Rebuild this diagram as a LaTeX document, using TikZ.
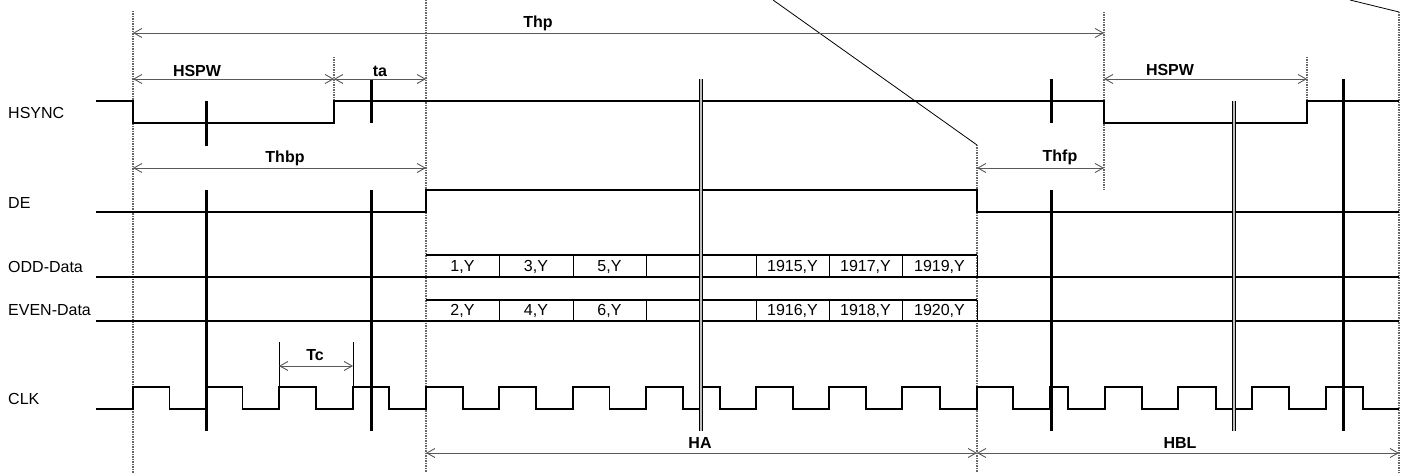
\documentclass[tikz,border=0pt]{standalone}
\usepackage{fontspec}
\setmainfont{Liberation Sans}
\usetikzlibrary{arrows.meta}
\begin{document}
\begin{tikzpicture}[x=1pt,y=-1pt,
  wave/.style={line width=1.3pt,black,line join=miter},
  guide/.style={line width=1.1pt,gray!80!black,dash pattern=on 1.5pt off 1pt},
  tick/.style={line width=1pt,black},
  dim/.style={line width=0.9pt,gray!70!black,{Straight Barb[length=8pt,width=9pt]}-{Straight Barb[length=8pt,width=9pt]}},
  bar/.style={line width=3pt,black},
  dbar/.style={double=gray!50,double distance=1.4pt,line width=1pt,black},
  sig/.style={anchor=west,inner sep=0pt,font=\fontsize{16}{18}\selectfont},
  lab/.style={inner sep=0pt,font=\fontsize{16}{18}\selectfont\bfseries},
  cell/.style={inner sep=0pt,font=\fontsize{16}{18}\selectfont}]
\useasboundingbox (0,0) rectangle (1409,473);

% signal names
\node[sig] (nHS)  at (8,113) {HSYNC};
\node[sig] (nDE)  at (8,203) {DE};
\node[sig] (nODD) at (8,267) {ODD-Data};
\node[sig] (nEV)  at (8,310) {EVEN-Data};
\node[sig] (nCLK) at (8,399) {CLK};

% guide lines
\draw[guide] (133,11) -- (133,473);
\draw[guide] (426,0) -- (426,473);
\draw[guide] (977,145) -- (977,473);
\draw[guide] (1104,12) -- (1104,190);
\draw[guide] (1399,12) -- (1399,473);
\draw[guide] (334,57) -- (334,101);
\draw[guide] (1307,57) -- (1307,101);
\draw[tick] (279,342) -- (279,409);
\draw[tick] (353,342) -- (353,409);

% expansion lines
\draw[line width=0.8pt] (773,0) -- (977,145);
\draw[line width=0.8pt] (1350,0) -- (1399,12);

% HSYNC
\draw[wave] (96,101) -- (133,101) -- (133,123) -- (334,123) -- (334,101) -- (1104,101)
  -- (1104,123) -- (1307,123) -- (1307,101) -- (1399,101);
% DE
\draw[wave] (96,212) -- (426,212) -- (426,190) -- (977,190) -- (977,212) -- (1399,212);
% data rows
\draw[wave] (96,277) -- (1399,277);
\draw[wave] (96,321) -- (1399,321);
\draw[wave] (426,255) -- (977,255);
\draw[wave] (426,300) -- (977,300);
\foreach \x in {499,573,646,756,829,902,977}{
  \draw[line width=1pt] (\x,255) -- (\x,277);
  \draw[line width=1pt] (\x,300) -- (\x,321);
}
\node[cell] (o1) at (462.5,267) {1,Y};
\node[cell] (o3) at (536,267) {3,Y};
\node[cell] (o5) at (609.5,267) {5,Y};
\node[cell] (o1915) at (792.5,267) {1915,Y};
\node[cell] (o1917) at (865.5,267) {1917,Y};
\node[cell] (o1919) at (939.5,267) {1919,Y};
\node[cell] (e2) at (462.5,311) {2,Y};
\node[cell] (e4) at (536,311) {4,Y};
\node[cell] (e6) at (609.5,311) {6,Y};
\node[cell] (e1916) at (792.5,311) {1916,Y};
\node[cell] (e1918) at (865.5,311) {1918,Y};
\node[cell] (e1920) at (939.5,311) {1920,Y};

% CLK
\draw[wave] (96,409) -- (133,409) -- (133,387) -- (169.6,387) -- (169.6,409) -- (206,409)
 -- (206,387) -- (242.5,387) -- (242.5,409) -- (279,409) -- (279,387) -- (316,387)
 -- (316,409) -- (353,409) -- (353,387) -- (389,387) -- (389,409) -- (426,409)
 -- (426,387) -- (463,387) -- (463,409) -- (499,409) -- (499,387) -- (536,387)
 -- (536,409) -- (573,409) -- (573,387) -- (609.5,387) -- (609.5,409) -- (646,409)
 -- (646,387) -- (683,387) -- (683,409) -- (701,409) -- (701,387) -- (720,387)
 -- (720,409) -- (756,409) -- (756,387) -- (793,387) -- (793,409) -- (829,409)
 -- (829,387) -- (866,387) -- (866,409) -- (902,409) -- (902,387) -- (940,387)
 -- (940,409) -- (977,409) -- (977,387) -- (1013,387) -- (1013,409) -- (1050,409)
 -- (1050,387) -- (1068,387) -- (1068,409) -- (1105,409) -- (1105,387) -- (1142,387)
 -- (1142,409) -- (1178,409) -- (1178,387) -- (1216,387) -- (1216,409) -- (1252,409)
 -- (1252,387) -- (1289,387) -- (1289,409) -- (1326,409) -- (1326,387) -- (1363,387)
 -- (1363,409) -- (1399,409);

% break bars
\draw[bar] (206,101) -- (206,146);
\draw[bar] (206,190) -- (206,431);
\draw[bar] (371,79) -- (371,123);
\draw[bar] (371,190) -- (371,431);
\draw[bar] (1051,79) -- (1051,123);
\draw[bar] (1051,190) -- (1051,431);
\draw[bar] (1343,79) -- (1343,431);
\draw[dbar] (701,79) -- (701,431);
\draw[dbar] (1234,101) -- (1234,431);

% dimension coordinates
\coordinate (thpA) at (133,33);   \coordinate (thpB) at (1104,33);
\coordinate (hspA) at (133,79);   \coordinate (hspB) at (334,79);
\coordinate (taB)  at (426,79);
\coordinate (hsp2A) at (1104,79); \coordinate (hsp2B) at (1307,79);
\coordinate (thbA) at (133,168);  \coordinate (thbB) at (426,168);
\coordinate (thfA) at (977,168);  \coordinate (thfB) at (1104,168);
\coordinate (tcA)  at (279,366);  \coordinate (tcB)  at (353,366);
\coordinate (haA)  at (426,453);  \coordinate (haB)  at (977,453);
\coordinate (hblB) at (1399,453);

\draw[dim] (thpA) -- (thpB);
\draw[dim] (hspA) -- (hspB);
\draw[dim] (hspB) -- (taB);
\draw[dim] (hsp2A) -- (hsp2B);
\draw[dim] (thbA) -- (thbB);
\draw[dim] (thfA) -- (thfB);
\draw[dim] (tcA) -- (tcB);
\draw[dim] (haA) -- (haB);
\draw[dim] (haB) -- (hblB);

\node[lab] (lThp)  at (538,23) {Thp};
\node[lab] (lHSPW) at (197,71) {HSPW};
\node[lab] (lta)   at (380,71) {ta};
\node[lab] (lHSPW2) at (1170,70) {HSPW};
\node[lab] (lThbp) at (285,158) {Thbp};
\node[lab] (lThfp) at (1060,157) {Thfp};
\node[lab] (lTc)   at (315,355) {Tc};
\node[lab] (lHA)   at (700,443) {HA};
\node[lab] (lHBL)  at (1180,443) {HBL};
\end{tikzpicture}
\end{document}
